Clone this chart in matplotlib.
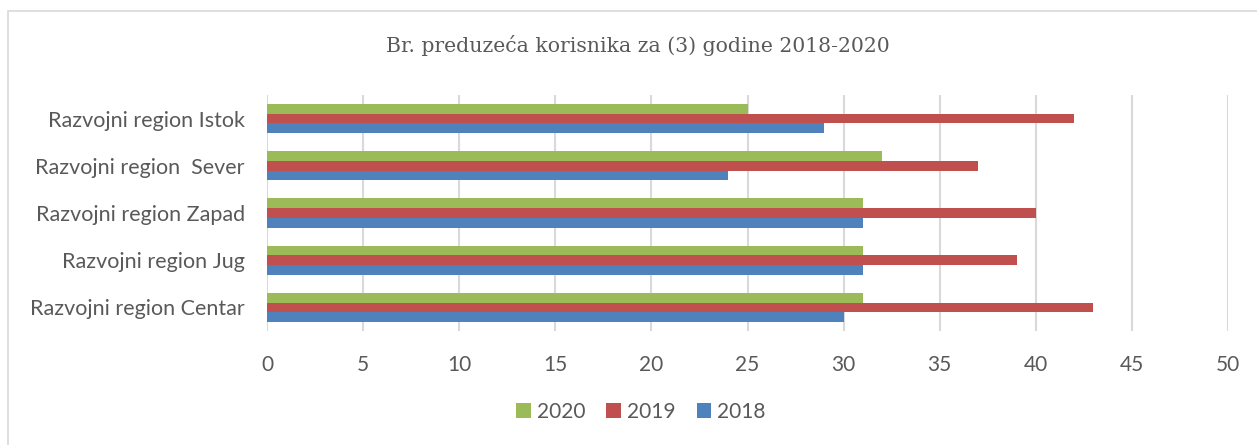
import numpy as np
import matplotlib.pyplot as plt
import matplotlib.patches as patches

# Podatki
regions = ['Razvojni region Centar', 'Razvojni region Jug', 'Razvojni region Zapad',
           'Razvojni region  Sever', 'Razvojni region Istok']
v2018 = [30, 31, 31, 24, 29]
v2019 = [43, 39, 40, 37, 42]
v2020 = [31, 31, 31, 32, 25]

title = 'Br. preduzeća korisnika za (3) godine 2018-2020'
xticks = [0, 5, 10, 15, 20, 25, 30, 35, 40, 45, 50]

c2018 = '#4F81BD'
c2019 = '#C0504D'
c2020 = '#9BBB59'
txt = '#595959'

plt.rcParams['font.family'] = ['Lato', 'DejaVu Sans']

fig = plt.figure(figsize=(12.57, 4.45), dpi=100)
ax = fig.add_axes([267/1257, 1 - 331/445, (1228 - 267)/1257, (331 - 95)/445])

# Okvir
fig.patches.append(patches.Rectangle((8/1257, -0.1), 1.1, 1 - 11/445 + 0.1,
                                     transform=fig.transFigure, fill=False,
                                     edgecolor='#D9D9D9', linewidth=1.2))

y = np.arange(len(regions))
h = 0.205
ax.barh(y - h, v2018, height=h, color=c2018, label='2018', zorder=3)
ax.barh(y, v2019, height=h, color=c2019, label='2019', zorder=3)
ax.barh(y + h, v2020, height=h, color=c2020, label='2020', zorder=3)

ax.set_xlim(0, 50)
ax.set_ylim(-0.5, 4.5)
ax.set_xticks(xticks)
ax.set_yticks(y)
ax.set_yticklabels(regions)
ax.grid(axis='x', color='#D9D9D9', linewidth=1.5, zorder=0)
for s in ax.spines.values():
    s.set_visible(False)
ax.tick_params(axis='y', length=0, pad=16, labelsize=15.5, labelcolor=txt)
ax.tick_params(axis='x', length=0, pad=17, labelsize=15, labelcolor=txt)

fig.text(638/1257, 1 - 46/445, title, ha='center', va='center',
         family='DejaVu Serif', fontsize=14.7, color=txt)

handles, labels = ax.get_legend_handles_labels()
leg = fig.legend(handles[::-1], labels[::-1], loc='center', ncol=3,
                 bbox_to_anchor=(641/1257, 1 - 412/445), frameon=False,
                 handlelength=0.7, handleheight=0.7, handletextpad=0.3,
                 columnspacing=1.0, fontsize=15)
for t in leg.get_texts():
    t.set_color(txt)

plt.savefig('out.png', dpi=100)
